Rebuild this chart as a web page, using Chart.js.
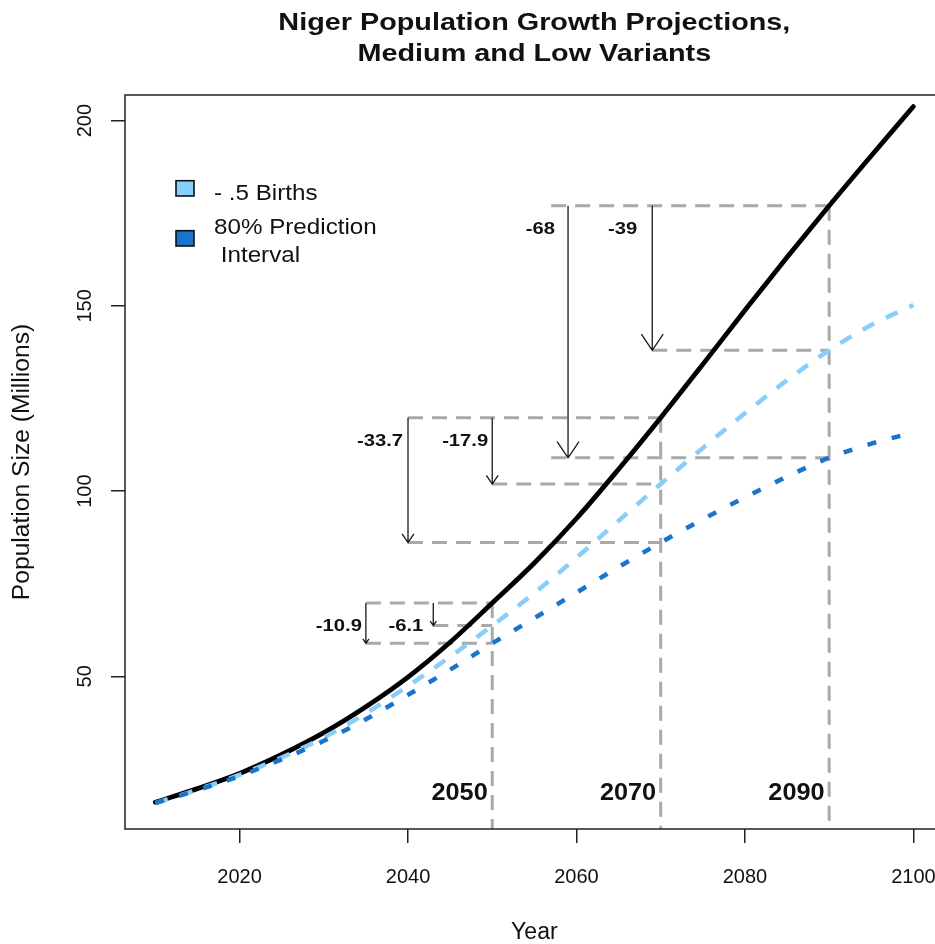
<!DOCTYPE html>
<html>
<head>
<meta charset="utf-8">
<title>Niger Population Growth Projections</title>
<script src="https://cdn.jsdelivr.net/npm/chart.js@4.4.1/dist/chart.umd.min.js"></script>
<style>
  html, body { margin: 0; padding: 0; overflow: hidden; background: #ffffff; }
  #wrap { position: absolute; left: 0; top: 0; width: 960px; height: 944px; }
</style>
</head>
<body>
<div id="wrap"><canvas id="chart"></canvas></div>
<script>
// Projection years and population (millions)
const years     = [2010, 2015, 2020, 2025, 2030, 2035, 2040, 2045, 2050, 2055, 2060, 2065, 2070, 2075, 2080, 2085, 2090, 2095, 2100];
const medium    = [16.0, 19.7, 23.8, 28.9, 34.8, 41.8, 49.8, 59.2, 69.8, 80.6, 92.6, 105.9, 119.8, 134.2, 148.8, 163.1, 177.0, 190.5, 203.8];
const lowBirths = [15.8, 19.4, 23.4, 28.1, 33.5, 40.0, 47.4, 55.3, 63.7, 72.5, 82.0, 92.0, 101.9, 111.6, 121.0, 129.9, 138.0, 144.8, 150.2];
const piLower   = [15.8, 19.3, 23.1, 27.6, 32.6, 38.4, 45.0, 51.8, 58.9, 65.7, 72.6, 79.5, 86.1, 92.4, 98.3, 103.9, 109.0, 112.8, 115.8];

// Axis ticks
const xTicks = [2020, 2040, 2060, 2080, 2100];
const yTicks = [50, 100, 150, 200];

// Comparison years and the years where the drop arrows stand
const calloutYears = [2050, 2070, 2090];
const arrowYears   = [[2035, 2043], [2040, 2050], [2059, 2069]];
const guideFrom    = [2035, 2040, 2057];

const seriesLabels = ['Medium', '- .5 Births', '80% Prediction\n Interval'];

// ---- styling ----
const FAMILY = "'Liberation Sans', Arial, Helvetica, sans-serif";
const C_MED = '#000000', C_LOW = '#87cefa', C_PI = '#1874cd', C_GUIDE = '#a9a9a9', C_INK = '#111111';
const headLen  = [5.5, 10.5, 19.5];
const labelGap = [[4, 10], [5, 4], [13, 15]];

const pts = arr => years.map((y, i) => ({ x: y, y: arr[i] }));
const at  = (arr, yr) => arr[years.indexOf(yr)];
const fmt = v => String(Number(v.toFixed(1)));

function txt(ctx, s, x, y, font, align, sx, rot) {
  ctx.save();
  ctx.font = font;
  ctx.fillStyle = C_INK;
  ctx.textAlign = align;
  ctx.textBaseline = 'alphabetic';
  ctx.translate(x, y);
  if (rot) ctx.rotate(rot);
  ctx.scale(sx || 1, 1);
  ctx.fillText(s, 0, 0);
  ctx.restore();
}

const decorations = {
  id: 'decorations',
  beforeDatasetsDraw(chart) {
    const { ctx, chartArea: a, scales: { x, y } } = chart;
    ctx.save();
    ctx.beginPath();
    ctx.rect(a.left, a.top, a.right - a.left, a.bottom - a.top);
    ctx.clip();
    ctx.strokeStyle = C_GUIDE;
    ctx.lineWidth = 3;
    ctx.setLineDash([15, 9]);
    calloutYears.forEach((yr, i) => {
      const X = x.getPixelForValue(yr);
      const ym = y.getPixelForValue(at(medium, yr));
      const yl = y.getPixelForValue(at(lowBirths, yr));
      const yp = y.getPixelForValue(at(piLower, yr));
      const x0 = x.getPixelForValue(guideFrom[i]);
      const x2 = x.getPixelForValue(arrowYears[i][1]);
      ctx.beginPath();
      ctx.moveTo(x0, ym); ctx.lineTo(X, ym);
      ctx.moveTo(x2, yl); ctx.lineTo(X, yl);
      ctx.moveTo(x0, yp); ctx.lineTo(X, yp);
      ctx.moveTo(X, ym); ctx.lineTo(X, a.bottom);
      ctx.stroke();
    });
    ctx.restore();
  },
  afterDatasetsDraw(chart) {
    const { ctx, chartArea: a, scales: { x, y } } = chart;

    // drop arrows and their values
    calloutYears.forEach((yr, i) => {
      const m = at(medium, yr);
      const targets = [at(piLower, yr), at(lowBirths, yr)];
      const ym = y.getPixelForValue(m);
      targets.forEach((v, k) => {
        const X = x.getPixelForValue(arrowYears[i][k]);
        const Y = y.getPixelForValue(v);
        const L = headLen[i], th = 34 * Math.PI / 180;
        ctx.save();
        ctx.strokeStyle = '#1a1a1a';
        ctx.lineWidth = 1.3;
        ctx.beginPath();
        ctx.moveTo(X, ym); ctx.lineTo(X, Y);
        ctx.moveTo(X - L * Math.sin(th), Y - L * Math.cos(th));
        ctx.lineTo(X, Y);
        ctx.lineTo(X + L * Math.sin(th), Y - L * Math.cos(th));
        ctx.stroke();
        ctx.restore();
        txt(ctx, fmt(v - m), X - labelGap[i][k], ym + 28, 'bold 17px ' + FAMILY, 'right', 1.19);
      });
      txt(ctx, String(yr), x.getPixelForValue(yr) - 4.5, a.bottom - 29, 'bold 23px ' + FAMILY, 'right', 1.1);
    });

    // legend for the two lower variants
    const ds = chart.data.datasets.filter(d => d.inLegend);
    const boxTop = [180.7, 230.7];
    const textBase = [200, 234];
    ds.forEach((d, k) => {
      ctx.save();
      ctx.fillStyle = d.borderColor;
      ctx.strokeStyle = '#111';
      ctx.lineWidth = 1.6;
      ctx.fillRect(176, boxTop[k], 18, 15.3);
      ctx.strokeRect(176, boxTop[k], 18, 15.3);
      ctx.restore();
      d.label.split('\n').forEach((line, j) => {
        txt(ctx, line, 214, textBase[k] + j * 28, '22px ' + FAMILY, 'left', 1.1);
      });
    });

    // plot frame
    ctx.save();
    ctx.strokeStyle = '#222';
    ctx.lineWidth = 1.5;
    ctx.strokeRect(a.left, a.top, a.right - a.left, a.bottom - a.top);
    ctx.restore();
  },
  afterDraw(chart) {
    const { ctx, chartArea: a, scales: { x, y } } = chart;
    const cx = (a.left + a.right) / 2;
    // tick labels
    x.ticks.forEach(t => txt(ctx, String(t.value), x.getPixelForValue(t.value), 883, '20px ' + FAMILY, 'center', 1));
    y.ticks.forEach(t => txt(ctx, String(t.value), 90.5, y.getPixelForValue(t.value), '20px ' + FAMILY, 'center', 1, -Math.PI / 2));
    // axis titles
    txt(ctx, 'Year', cx, 939, '23px ' + FAMILY, 'center', 1);
    txt(ctx, 'Population Size (Millions)', 28.5, (a.top + a.bottom) / 2, '23px ' + FAMILY, 'center', 1.07, -Math.PI / 2);
    // main title
    txt(ctx, 'Niger Population Growth Projections,', cx, 29.5, 'bold 24px ' + FAMILY, 'center', 1.2);
    txt(ctx, 'Medium and Low Variants', cx, 60.7, 'bold 24px ' + FAMILY, 'center', 1.2);
  }
};

new Chart(document.getElementById('chart'), {
  type: 'line',
  data: {
    datasets: [
      { label: seriesLabels[0], data: pts(medium), borderColor: C_MED, borderWidth: 4.8, order: 3, borderJoinStyle: 'round', borderCapStyle: 'round' },
      { label: seriesLabels[1], data: pts(lowBirths), borderColor: C_LOW, borderWidth: 4.5, borderDash: [13, 13], order: 2, inLegend: true },
      { label: seriesLabels[2], data: pts(piLower), borderColor: C_PI, borderWidth: 4.5, borderDash: [9, 16], order: 1, inLegend: true }
    ]
  },
  options: {
    responsive: true,
    maintainAspectRatio: false,
    animation: false,
    layout: { padding: { top: 95, right: 16.3, left: 0, bottom: 0 } },
    elements: { point: { radius: 0 }, line: { cubicInterpolationMode: 'monotone' } },
    plugins: { legend: { display: false }, tooltip: { enabled: false }, title: { display: false } },
    scales: {
      x: {
        type: 'linear', min: 2006.4, max: 2103.6,
        afterBuildTicks: s => { s.ticks = xTicks.map(v => ({ value: v })); },
        afterFit: s => { s.height = 115; },
        ticks: { display: false },
        border: { display: false },
        grid: { drawOnChartArea: false, drawTicks: true, tickLength: 14, color: '#222', lineWidth: 1.5 }
      },
      y: {
        type: 'linear', min: 8.8, max: 206.9,
        afterBuildTicks: s => { s.ticks = yTicks.map(v => ({ value: v })); },
        afterFit: s => { s.width = 125; },
        ticks: { display: false },
        border: { display: false },
        grid: { drawOnChartArea: false, drawTicks: true, tickLength: 14, color: '#222', lineWidth: 1.5 }
      }
    }
  },
  plugins: [decorations]
});
</script>
</body>
</html>
